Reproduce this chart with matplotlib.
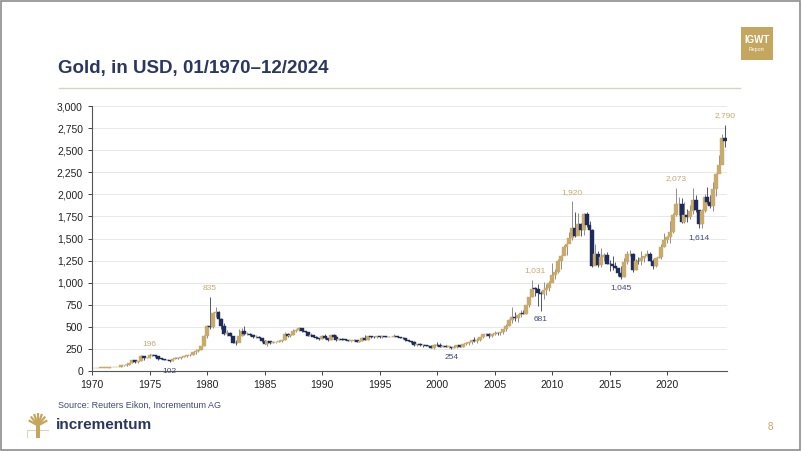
import matplotlib
matplotlib.use("Agg")
import matplotlib.pyplot as plt
from matplotlib.patches import Rectangle
import numpy as np

plt.rcParams['font.family'] = ['Liberation Sans', 'DejaVu Sans']

# Quarterly gold OHLC, 1970Q1 - 2024Q4 (USD/oz)
first_open = 35.2
close = [35.5, 35.8, 36.2, 37.4,
         38.9, 40.1, 42.6, 43.6,
         48.4, 65.1, 65.5, 64.9,
         90.5, 123.3, 100.0, 112.3,
         172.5, 143.0, 151.8, 186.5,
         177.3, 166.3, 141.3, 140.3,
         128.8, 123.8, 116.0, 134.5,
         148.9, 143.0, 154.1, 164.9,
         181.6, 183.1, 217.1, 226.0,
         240.1, 277.5, 397.3, 512.0,
         494.5, 653.5, 666.8, 589.8,
         513.8, 422.0, 428.8, 397.5,
         320.0, 317.5, 397.0, 456.9,
         414.8, 416.0, 405.0, 381.5,
         388.5, 373.1, 341.3, 309.0,
         334.1, 317.8, 326.3, 326.8,
         339.0, 345.8, 423.8, 390.9,
         408.5, 447.3, 459.5, 486.5,
         456.5, 436.6, 397.7, 410.1,
         385.0, 373.0, 366.5, 398.6,
         368.5, 352.2, 408.4, 386.2,
         355.7, 367.0, 354.9, 353.2,
         341.7, 343.4, 349.0, 333.0,
         337.8, 378.5, 355.5, 391.8,
         389.2, 385.8, 394.9, 383.3,
         392.0, 387.1, 384.0, 387.0,
         396.4, 382.0, 379.0, 369.3,
         351.8, 334.6, 332.1, 290.2,
         301.0, 296.3, 293.9, 287.8,
         279.5, 261.0, 299.0, 290.3,
         276.8, 288.2, 273.7, 274.5,
         257.7, 270.6, 293.1, 276.5,
         302.0, 318.5, 323.7, 347.2,
         334.9, 346.0, 388.0, 416.3,
         423.7, 395.8, 415.7, 435.6,
         427.5, 437.1, 473.3, 513.0,
         582.0, 613.5, 599.3, 632.0,
         661.8, 650.5, 743.0, 833.8,
         933.5, 930.3, 884.5, 869.8,
         916.5, 934.5, 995.8, 1087.5,
         1115.5, 1244.0, 1307.0, 1405.5,
         1439.0, 1505.5, 1620.0, 1531.0,
         1662.5, 1598.5, 1776.0, 1657.5,
         1598.3, 1192.0, 1326.5, 1204.5,
         1291.8, 1315.0, 1216.5, 1206.0,
         1187.0, 1171.0, 1114.0, 1060.0,
         1237.0, 1320.8, 1322.5, 1145.9,
         1244.9, 1242.3, 1283.1, 1296.5,
         1324.7, 1250.5, 1187.3, 1279.0,
         1295.4, 1409.0, 1485.3, 1514.8,
         1577.2, 1768.1, 1886.9, 1887.6,
         1691.1, 1763.2, 1742.8, 1805.9,
         1941.2, 1817.0, 1660.6, 1812.4,
         1969.0, 1912.3, 1870.1, 2062.4,
         2229.9, 2326.8, 2634.6, 2609.1]

high = [35.9, 35.9, 36.4, 37.5,
        39.0, 40.5, 42.8, 44.0,
        49.0, 66.0, 70.0, 66.0,
        90.5, 127.0, 126.0, 115.0,
        179.5, 171.0, 155.0, 196.0,
        185.0, 178.0, 167.0, 143.0,
        140.5, 130.0, 124.0, 137.0,
        153.0, 150.0, 155.0, 165.0,
        184.0, 187.0, 218.0, 245.0,
        253.0, 280.0, 412.0, 524.0,
        835.0, 666.0, 721.0, 681.0,
        599.0, 540.0, 459.0, 445.0,
        400.0, 353.0, 481.0, 488.0,
        509.0, 439.0, 428.0, 405.0,
        404.0, 395.0, 367.0, 350.0,
        340.0, 336.0, 344.0, 333.0,
        352.0, 350.0, 443.0, 430.0,
        410.0, 478.0, 470.0, 502.0,
        485.0, 458.0, 439.0, 432.0,
        412.0, 393.0, 379.0, 413.0,
        423.0, 376.0, 413.0, 414.0,
        403.0, 370.0, 370.0, 364.0,
        356.0, 343.0, 357.0, 349.0,
        339.0, 387.0, 406.0, 392.0,
        396.0, 394.0, 398.0, 394.0,
        392.0, 395.0, 388.0, 390.0,
        415.0, 397.0, 390.0, 386.0,
        368.0, 354.0, 336.0, 335.0,
        303.0, 313.0, 300.0, 300.0,
        292.0, 290.0, 303.0, 326.0,
        316.0, 293.0, 294.0, 275.0,
        272.0, 295.0, 293.0, 292.0,
        304.0, 328.0, 324.0, 349.0,
        382.0, 371.0, 390.0, 417.0,
        427.0, 427.0, 415.0, 454.0,
        443.0, 440.0, 473.0, 537.0,
        584.0, 725.0, 663.0, 648.0,
        685.0, 691.0, 743.0, 841.0,
        1031.0, 948.0, 986.0, 903.0,
        1006.0, 990.0, 1018.0, 1226.0,
        1153.0, 1265.0, 1315.0, 1430.0,
        1447.0, 1577.0, 1920.0, 1803.0,
        1791.0, 1681.0, 1790.0, 1796.0,
        1696.0, 1605.0, 1434.0, 1361.0,
        1392.0, 1332.0, 1345.0, 1255.0,
        1307.0, 1232.0, 1170.0, 1191.0,
        1282.0, 1362.0, 1375.0, 1337.0,
        1263.0, 1295.0, 1357.0, 1298.0,
        1366.0, 1351.0, 1265.0, 1284.0,
        1346.0, 1438.0, 1557.0, 1523.0,
        1703.0, 1789.0, 2073.0, 1965.0,
        1959.0, 1916.0, 1834.0, 1877.0,
        2070.0, 1998.0, 1814.0, 1833.0,
        2009.0, 2081.0, 1987.0, 2135.0,
        2236.0, 2450.0, 2685.0, 2790.0]

low = [34.8, 35.2, 35.5, 36.0,
       37.3, 38.5, 40.0, 42.0,
       43.5, 48.0, 62.0, 61.0,
       65.0, 90.0, 95.0, 96.0,
       112.0, 129.0, 142.0, 152.0,
       167.0, 161.0, 128.0, 134.0,
       125.0, 122.0, 102.0, 116.0,
       132.0, 139.0, 140.0, 153.0,
       164.0, 168.0, 183.0, 193.0,
       216.0, 234.0, 283.0, 372.0,
       474.0, 484.0, 615.0, 587.0,
       475.0, 413.0, 391.0, 392.0,
       315.0, 297.0, 339.0, 393.0,
       402.0, 402.0, 397.0, 372.0,
       368.0, 369.0, 332.0, 307.0,
       284.0, 310.0, 314.0, 315.0,
       327.0, 333.0, 346.0, 380.0,
       390.0, 408.0, 438.0, 452.0,
       442.0, 436.0, 395.0, 395.0,
       380.0, 359.0, 356.0, 366.0,
       366.0, 345.0, 352.0, 377.0,
       345.0, 354.0, 347.0, 350.0,
       339.0, 330.0, 338.0, 329.0,
       326.0, 337.0, 350.0, 354.0,
       370.0, 377.0, 378.0, 375.0,
       372.0, 382.0, 380.0, 381.0,
       387.0, 380.0, 378.0, 367.0,
       341.0, 337.0, 315.0, 283.0,
       284.0, 286.0, 273.0, 287.0,
       278.0, 256.0, 253.0, 282.0,
       275.0, 272.0, 271.0, 264.0,
       254.0, 256.0, 265.0, 271.0,
       277.0, 297.0, 300.0, 310.0,
       325.0, 319.0, 342.0, 370.0,
       399.0, 375.0, 387.0, 412.0,
       411.0, 413.0, 418.0, 456.0,
       513.0, 543.0, 561.0, 560.0,
       608.0, 642.0, 648.0, 725.0,
       833.0, 853.0, 740.0, 681.0,
       810.0, 865.0, 908.0, 1045.0,
       1045.0, 1107.0, 1157.0, 1310.0,
       1308.0, 1462.0, 1478.0, 1522.0,
       1564.0, 1527.0, 1540.0, 1635.0,
       1555.0, 1180.0, 1207.0, 1180.0,
       1182.0, 1240.0, 1208.0, 1131.0,
       1142.0, 1162.0, 1077.0, 1045.0,
       1061.0, 1208.0, 1306.0, 1124.0,
       1146.0, 1214.0, 1205.0, 1236.0,
       1302.0, 1247.0, 1160.0, 1182.0,
       1276.0, 1266.0, 1400.0, 1445.0,
       1451.0, 1567.0, 1757.0, 1764.0,
       1677.0, 1677.0, 1690.0, 1721.0,
       1780.0, 1805.0, 1614.0, 1618.0,
       1805.0, 1893.0, 1848.0, 1810.0,
       1985.0, 2277.0, 2353.0, 2537.0]

# annotated extremes: (quarter index, value, kind)
ann_idx = [19, 26, 40, 124, 153, 155, 166, 183, 202, 210, 219]
ann_val = [196, 102, 835, 254, 1031, 681, 1920, 1045, 2073, 1614, 2790]
ann_kind = ['h', 'l', 'h', 'l', 'h', 'l', 'h', 'l', 'h', 'l', 'h']

yticks = [0, 250, 500, 750, 1000, 1250, 1500, 1750, 2000, 2250, 2500, 2750, 3000]
xticks = [1970, 1975, 1980, 1985, 1990, 1995, 2000, 2005, 2010, 2015, 2020]

GOLD = '#c8ab6b'
NAVY = '#1f2b5b'
TITLE = '#2a3760'
LABEL_GOLD = '#c5a870'
LABEL_NAVY = '#3c4a78'

n = len(close)
opens = [first_open] + close[:-1]
xs = np.array([1970 + (i + 1) / 4.0 for i in range(n)])

fig = plt.figure(figsize=(8.02, 4.51), dpi=100)
fig.patch.set_facecolor('white')

# slide frame
fig.add_artist(Rectangle((0.001, 0.002), 0.997, 0.995, transform=fig.transFigure,
                         fill=False, edgecolor='#8c8c8c', lw=1.2))

ax = fig.add_axes([92 / 802, 1 - 371 / 451, 635 / 802, 265 / 451])
w = 0.17
for i in range(n):
    o, c, h, l = opens[i], close[i], high[i], low[i]
    up = c >= o
    col = GOLD if up else NAVY
    ax.vlines(xs[i], l, h, color='#8f8f8f' if up else '#4a5578', lw=0.7, zorder=2)
    bottom = min(o, c)
    height = max(abs(c - o), 4)
    ax.add_patch(Rectangle((xs[i] - w, bottom), 2 * w, height, facecolor=col,
                           edgecolor=col, lw=0.3, zorder=3))

for idx, val, kind in zip(ann_idx, ann_val, ann_kind):
    if kind == 'h':
        ax.annotate(f"{val:,}", (xs[idx], val), xytext=(0, 4), textcoords='offset points',
                    ha='center', va='bottom', fontsize=6, color=LABEL_GOLD)
    else:
        ax.annotate(f"{val:,}", (xs[idx], val), xytext=(0, -4), textcoords='offset points',
                    ha='center', va='top', fontsize=6, color=LABEL_NAVY)

ax.set_xlim(1970, 2025.2)
ax.set_ylim(0, 3000)
ax.set_yticks(yticks)
ax.set_yticklabels([f"{v:,}" for v in yticks])
ax.set_xticks(xticks)
ax.set_xticklabels([str(v) for v in xticks])
ax.tick_params(axis='both', labelsize=7.5, colors='#222222', length=3, width=0.6)
ax.grid(axis='y', color='#e8e8e8', lw=0.7, zorder=0)
ax.set_axisbelow(True)
for s in ['top', 'right']:
    ax.spines[s].set_visible(False)
for s in ['left', 'bottom']:
    ax.spines[s].set_color('#555555')
    ax.spines[s].set_linewidth(0.8)

# title and rule
fig.text(58 / 802, 1 - 69 / 451, "Gold, in USD, 01/1970\u201312/2024", fontsize=13.5,
         fontweight='bold', color=TITLE, ha='left', va='center')
fig.add_artist(plt.Line2D([59 / 802, 740 / 802], [1 - 88 / 451] * 2, transform=fig.transFigure,
                          color='#d9d2c3', lw=1.0))

# IGWT badge
fig.add_artist(Rectangle((741 / 802, 1 - 60 / 451), 32 / 802, 33 / 451, transform=fig.transFigure,
                         facecolor='#c4a65e', edgecolor='none'))
fig.text(757 / 802, 1 - 40 / 451, "IGWT", fontsize=7, fontweight='bold', color='white',
         ha='center', va='center')
fig.text(757 / 802, 1 - 50 / 451, "Report", fontsize=3.8, color='white', ha='center', va='center')

# source
fig.text(58 / 802, 1 - 405 / 451, "Source: Reuters Eikon, Incrementum AG", fontsize=6.5,
         color='#3c4a78', ha='left', va='center')

# logo
lax = fig.add_axes([27 / 802, 1 - 438 / 451, 22 / 802, 25 / 451])
lax.set_xlim(0, 1)
lax.set_ylim(0, 1)
lax.axis('off')
lax.add_patch(Rectangle((0.02, 0.02), 0.96, 0.3, facecolor='none', edgecolor='#d9d2c3', lw=0.8))
lax.add_patch(Rectangle((0.42, 0.02), 0.16, 0.55, facecolor='#c4a65e', edgecolor='none'))
for ang in np.linspace(-70, 70, 7):
    r = np.deg2rad(ang)
    lax.plot([0.5, 0.5 + 0.45 * np.sin(r)], [0.5, 0.5 + 0.45 * np.cos(r) + 0.05],
             color='#c4a65e', lw=1.6, solid_capstyle='butt')
fig.text(56 / 802, 1 - 425 / 451, "incrementum", fontsize=11, fontweight='bold',
         color=TITLE, ha='left', va='center')
fig.text(770 / 802, 1 - 427 / 451, "8", fontsize=7, color='#c4a65e', ha='center', va='center')

fig.savefig('out.png', dpi=100)
